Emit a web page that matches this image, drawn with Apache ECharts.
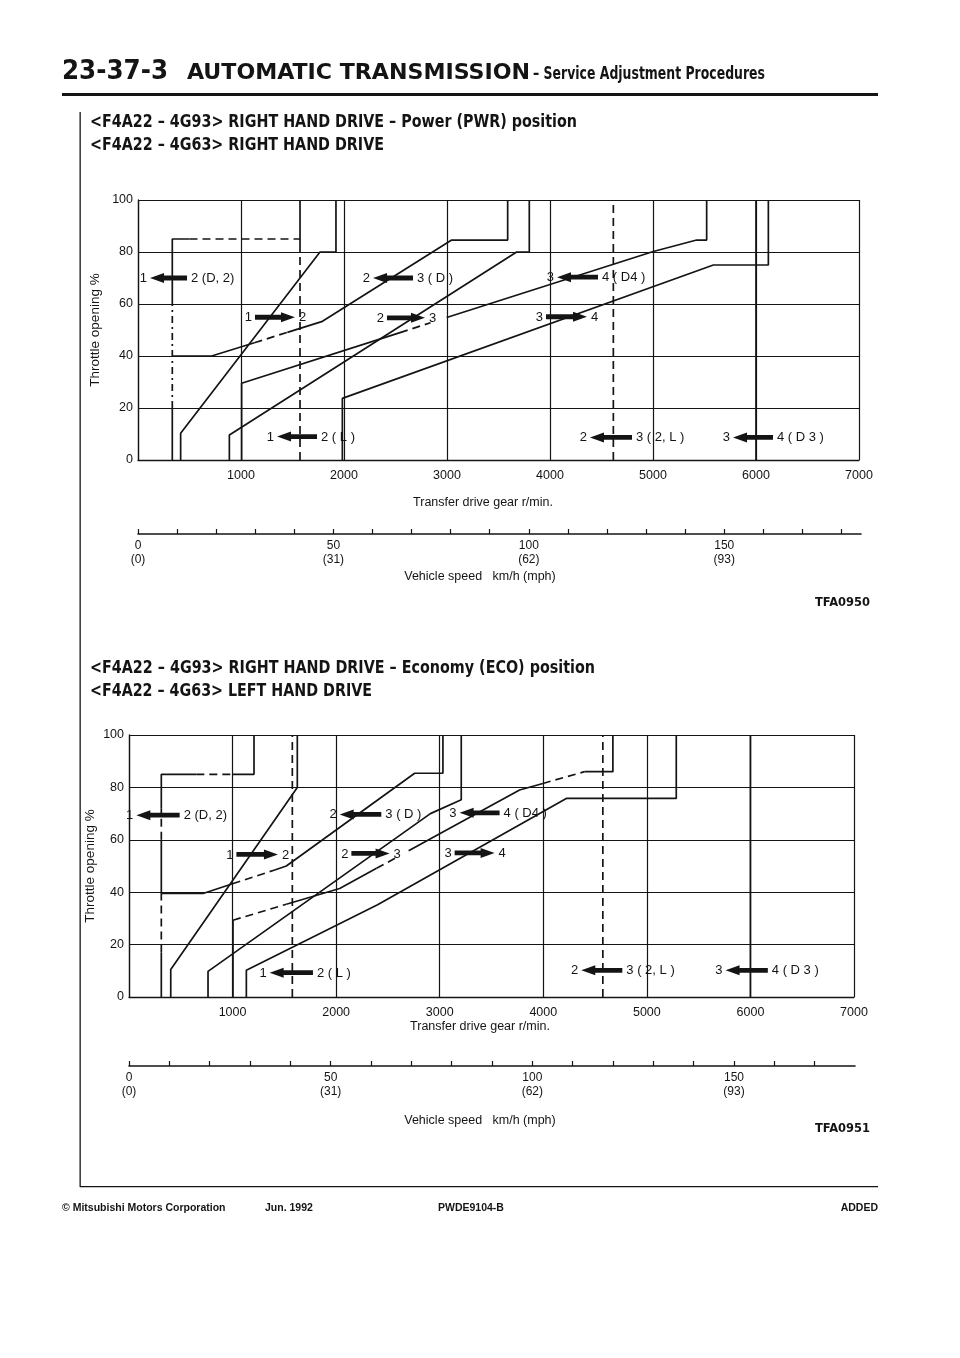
<!DOCTYPE html>
<html><head><meta charset="utf-8">
<script src="https://cdn.jsdelivr.net/npm/echarts@6/dist/echarts.min.js"></script>
<style>html,body{margin:0;padding:0;background:#fff}#c{width:960px;height:1358px}</style>
</head><body><div id="c"></div>
<script>
// ---------- axis ticks ----------
const rpmTicks = [0,1000,2000,3000,4000,5000,6000,7000];
const throttleTicks = [0,20,40,60,80,100];
const speedTicks = [0,50,100,150];
const mphLabels = ['(0)','(31)','(62)','(93)'];

// ---------- Power (PWR) position: shift lines [rpm, throttle %] ----------
const pwr12D2_s1 = [[333,0],[333,20]];
const pwr12D2_d1 = [[333,20],[333,60]];
const pwr12D2_s2 = [[333,60],[333,85],[500,85]];
const pwr12D2_d2 = [[500,85],[1573,85]];
const pwr12L_d   = [[1573,0],[1573,80]];
const pwr12L_s   = [[1573,80],[1573,100]];
const pwr12Up    = [[414,0],[414,10.3],[1767,80],[1922,80],[1922,100]];
const pwr23D_s1  = [[333,40],[715,40],[1130,45.1]];
const pwr23D_d   = [[1130,45.1],[1450,49.1]];
const pwr23D_s2  = [[1450,49.1],[1783,53.2],[3045,84.6],[3589,84.6],[3589,100]];
const pwr23Up    = [[887,0],[887,9.6],[3676,80],[3799,80],[3799,100]];
const pwr34D4_s1 = [[1006,0],[1006,29.5],[2544,49.0]];
const pwr34D4_d  = [[2544,49.0],[2840,52.8]];
const pwr34D4_s2 = [[2997,54.8],[5003,80.2],[5424,84.6],[5521,84.6],[5521,100]];
const pwr34Up    = [[1984,0],[1984,23.7],[5586,75],[6120,75],[6120,100]];
const pwr23L     = [[4615,0],[4615,100]];
const pwr34D3    = [[6000,0],[6000,100]];

// ---------- Economy (ECO) position ----------
const eco12D2_s1 = [[312,0],[312,17]];
const eco12D2_d1 = [[312,17],[312,40]];
const eco12D2_s2 = [[312,40],[312,60]];
const eco12D2_d2 = [[312,60],[312,72]];
const eco12D2_s3 = [[312,72],[312,85],[650,85]];
const eco12D2_d3 = [[650,85],[1000,85]];
const eco12D2_s4 = [[1000,85],[1207,85],[1207,100]];
const eco12L     = [[1577,0],[1577,100]];
const eco12Up    = [[403,0],[403,10.5],[1625,80],[1625,100]];
const eco23D_s1  = [[312,39.5],[715,39.5],[1000,43.2]];
const eco23D_d   = [[1000,43.2],[1400,48.4]];
const eco23D_s2  = [[1400,48.4],[1519,50],[2758,85.4],[3031,85.4],[3031,100]];
const eco23Up    = [[763,0],[763,9.8],[2910,70],[3208,75.3],[3208,100]];
const eco34D4_v  = [[1004,0],[1004,29.3]];
const eco34D4_d1 = [[1004,29.3],[1519,35.4]];
const eco34D4_s1 = [[1519,35.4],[2034,41.4],[2390,49.1]];
const eco34D4_d2 = [[2390,49.1],[2600,53.6]];
const eco34D4_s2 = [[2700,55.8],[3771,79],[3996,81.5]];
const eco34D4_d3 = [[3996,81.5],[4399,86]];
const eco34D4_s3 = [[4399,86],[4672,86],[4672,100]];
const eco34Up    = [[1133,0],[1133,10.2],[2400,35.2],[4222,75.8],[5284,75.8],[5284,100]];
const eco23L     = [[4575,0],[4575,100]];
const eco34D3    = [[6000,0],[6000,100]];

// ---------- shift annotations (arrow ends in rpm, height in %) ----------
const pwrNotes = [
  {xa:117, xb:476, y:70, head:'L', l:'1', r:'2 (D, 2)'},
  {xa:1136,xb:1524,y:54.9,head:'R', l:'1', r:'2'},
  {xa:2282,xb:2670,y:70, head:'L', l:'2', r:'3 ( D )'},
  {xa:2417,xb:2786,y:54.7,head:'R', l:'2', r:'3'},
  {xa:1350,xb:1738,y:9, head:'L', l:'1', r:'2 ( L )'},
  {xa:4068,xb:4466,y:70.3,head:'L', l:'3', r:'4 ( D4 )'},
  {xa:3961,xb:4359,y:55.1,head:'R', l:'3', r:'4'},
  {xa:4388,xb:4796,y:8.7, head:'L', l:'2', r:'3 ( 2, L )'},
  {xa:5777,xb:6165,y:8.7, head:'L', l:'3', r:'4 ( D 3 )'}
];
const ecoNotes = [
  {xa:71,  xb:489, y:69.4,head:'L', l:'1', r:'2 (D, 2)'},
  {xa:1037,xb:1438,y:54.4,head:'R', l:'1', r:'2'},
  {xa:2034,xb:2436,y:69.7,head:'L', l:'2', r:'3 ( D )'},
  {xa:2147,xb:2516,y:54.8,head:'R', l:'2', r:'3'},
  {xa:1358,xb:1776,y:9.3, head:'L', l:'1', r:'2 ( L )'},
  {xa:3192,xb:3578,y:70.3,head:'L', l:'3', r:'4 ( D4 )'},
  {xa:3144,xb:3530,y:55,  head:'R', l:'3', r:'4'},
  {xa:4367,xb:4763,y:10.2,head:'L', l:'2', r:'3 ( 2, L )'},
  {xa:5760,xb:6168,y:10.2,head:'L', l:'3', r:'4 ( D 3 )'}
];

const INK = '#141414';
const FONT = '"Liberation Sans", Arial, sans-serif';
const NARROW = '"Liberation Sans Narrow", "DejaVu Sans Condensed", "Liberation Sans", sans-serif';

function line(gi, data, style){
  const ls = {color: INK, width: 1.7};
  if (style === 'd') ls.type = [8,5];
  if (style === 'dd') ls.type = [7,4,2,4];
  return {type:'line', xAxisIndex:gi, yAxisIndex:gi, data:data, showSymbol:false,
    symbol:'none', lineStyle:ls, silent:true, animation:false, z:3};
}
function notes(gi, arr){
  return {type:'custom', xAxisIndex:gi, yAxisIndex:gi, silent:true, animation:false, z:5,
    clip:false,
    data: arr.map(a => [a.xa, a.xb, a.y]),
    encode:{x:[0,1], y:2},
    renderItem: function(params, api){
      const a = arr[params.dataIndex];
      const p1 = api.coord([a.xa, a.y]);
      const p2 = api.coord([a.xb, a.y]);
      const y = p1[1], hl = 14, hh = 5, sh = 2.4;
      const x0 = p1[0], x1 = p2[0];
      let pts;
      if (a.head === 'L'){
        pts = [[x0,y],[x0+hl,y-hh],[x0+hl,y-sh],[x1,y-sh],[x1,y+sh],[x0+hl,y+sh],[x0+hl,y+hh]];
      } else {
        pts = [[x1,y],[x1-hl,y-hh],[x1-hl,y-sh],[x0,y-sh],[x0,y+sh],[x1-hl,y+sh],[x1-hl,y+hh]];
      }
      return {type:'group', children:[
        {type:'polygon', shape:{points:pts}, style:{fill:INK}},
        {type:'text', style:{text:a.l, x:x0-3, y:y+0.5, align:'right', verticalAlign:'middle',
          fontSize:13, fontFamily:FONT, fill:INK}},
        {type:'text', style:{text:a.r, x:x1+4, y:y+0.5, align:'left', verticalAlign:'middle',
          fontSize:13, fontFamily:FONT, fill:INK}}
      ]};
    }
  };
}

// measure text to fit a target width (horizontal scale only)
const mctx = document.createElement('canvas').getContext('2d');
function fitText(x, y, text, size, family, targetW, align){
  mctx.font = 'bold ' + size + 'px ' + family;
  const w = mctx.measureText(text).width || targetW;
  return {type:'text', x:x, y:y, silent:true, scaleX: targetW / w, scaleY: 1,
    style:{text:text, fontSize:size, fontWeight:'bold', fontFamily:family, fill:INK,
      align:align||'left', verticalAlign:'middle'}};
}
function txt(x, y, text, size, weight, family, align, extra){
  return Object.assign({type:'text', x:x, y:y, silent:true,
    style:{text:text, fontSize:size, fontWeight:weight||'normal', fontFamily:family||FONT,
      fill:INK, align:align||'left', verticalAlign:'middle'}}, extra||{});
}

const chart = echarts.init(document.getElementById('c'), null, {renderer:'canvas'});

const grids = [
  {left:138, top:200, width:721, height:260},
  {left:129, top:735, width:725, height:262},
  {left:138, top:500, width:723, height:34},
  {left:129, top:1032, width:726, height:34}
];
grids.forEach(g => { g.show = false; g.containLabel = false; });

function rpmAxis(gi){
  return {type:'value', gridIndex:gi, min:rpmTicks[0], max:rpmTicks[rpmTicks.length-1], interval:1000,
    axisLine:{show:true, lineStyle:{color:INK, width:1.3}},
    axisTick:{show:false},
    splitLine:{show:true, lineStyle:{color:INK, width:1.2}},
    axisLabel:{fontSize:12.5, fontFamily:FONT, color:INK, margin:9,
      formatter: v => (v === 0 ? '' : String(v)), showMaxLabel:true}
  };
}
function thrAxis(gi){
  return {type:'value', gridIndex:gi, min:throttleTicks[0], max:throttleTicks[throttleTicks.length-1], interval:20,
    axisLine:{show:true, lineStyle:{color:INK, width:1.3}},
    axisTick:{show:false},
    splitLine:{show:true, lineStyle:{color:INK, width:1.2}},
    axisLabel:{fontSize:12.5, fontFamily:FONT, color:INK, margin:5}
  };
}
function speedAxis(gi, max){
  return {type:'value', gridIndex:gi, min:0, max:max, interval:10, position:'bottom',
    axisLine:{show:true, onZero:false, lineStyle:{color:INK, width:1.6}},
    axisTick:{show:true, inside:true, length:5, lineStyle:{color:INK, width:1.2}},
    splitLine:{show:false},
    axisLabel:{fontSize:12, fontFamily:FONT, color:INK, margin:5, lineHeight:14, showMaxLabel:false,
      formatter: v => { const i = speedTicks.indexOf(v); return i < 0 ? '' : speedTicks[i] + '\n' + mphLabels[i]; }}
  };
}

const series = [
  line(0,pwr12D2_s1), line(0,pwr12D2_d1,'dd'), line(0,pwr12D2_s2), line(0,pwr12D2_d2,'d'),
  line(0,pwr12L_d,'d'), line(0,pwr12L_s), line(0,pwr12Up),
  line(0,pwr23D_s1), line(0,pwr23D_d,'d'), line(0,pwr23D_s2), line(0,pwr23Up),
  line(0,pwr34D4_s1), line(0,pwr34D4_d,'d'), line(0,pwr34D4_s2), line(0,pwr34Up),
  line(0,pwr23L,'d'), line(0,pwr34D3),
  line(1,eco12D2_s1), line(1,eco12D2_d1,'d'), line(1,eco12D2_s2), line(1,eco12D2_d2,'d'),
  line(1,eco12D2_s3), line(1,eco12D2_d3,'d'), line(1,eco12D2_s4),
  line(1,eco12L,'d'), line(1,eco12Up),
  line(1,eco23D_s1), line(1,eco23D_d,'d'), line(1,eco23D_s2), line(1,eco23Up),
  line(1,eco34D4_v), line(1,eco34D4_d1,'d'), line(1,eco34D4_s1), line(1,eco34D4_d2,'d'),
  line(1,eco34D4_s2), line(1,eco34D4_d3,'d'), line(1,eco34D4_s3), line(1,eco34Up),
  line(1,eco23L,'d'), line(1,eco34D3),
  notes(0,pwrNotes), notes(1,ecoNotes)
];

const graphic = [
  fitText(62, 72, '23-37-3', 26, NARROW, 106),
  fitText(187, 73, 'AUTOMATIC TRANSMISSION', 22, NARROW, 343),
  fitText(533, 74, '– Service Adjustment Procedures', 18, NARROW, 232),
  {type:'rect', shape:{x:62, y:93, width:816, height:3}, style:{fill:INK}, silent:true},
  {type:'rect', shape:{x:79.5, y:112, width:1.3, height:1075}, style:{fill:INK}, silent:true},
  {type:'rect', shape:{x:80, y:1186, width:798, height:1.3}, style:{fill:INK}, silent:true},
  fitText(90, 123, '<F4A22 – 4G93> RIGHT HAND DRIVE – Power (PWR) position', 17, NARROW, 487),
  fitText(90, 146, '<F4A22 – 4G63> RIGHT HAND DRIVE', 17, NARROW, 294),
  txt(95, 330, 'Throttle opening %', 13.5, 'normal', FONT, 'center', {rotation:Math.PI/2}),
  txt(483, 503, 'Transfer drive gear r/min.', 12.5, 'normal', FONT, 'center'),
  txt(480, 577, 'Vehicle speed   km/h (mph)', 12.5, 'normal', FONT, 'center'),
  fitText(870, 603, 'TFA0950', 13, NARROW, 55, 'right'),
  fitText(90, 669, '<F4A22 – 4G93> RIGHT HAND DRIVE – Economy (ECO) position', 17, NARROW, 505),
  fitText(90, 692, '<F4A22 – 4G63> LEFT HAND DRIVE', 17, NARROW, 282),
  txt(90, 866, 'Throttle opening %', 13.5, 'normal', FONT, 'center', {rotation:Math.PI/2}),
  txt(480, 1027, 'Transfer drive gear r/min.', 12.5, 'normal', FONT, 'center'),
  txt(480, 1121, 'Vehicle speed   km/h (mph)', 12.5, 'normal', FONT, 'center'),
  fitText(870, 1129, 'TFA0951', 13, NARROW, 55, 'right'),
  txt(62, 1208, '© Mitsubishi Motors Corporation', 10.5, 'bold', FONT),
  txt(265, 1208, 'Jun. 1992', 10.5, 'bold', FONT),
  txt(438, 1208, 'PWDE9104-B', 10.5, 'bold', FONT),
  txt(878, 1208, 'ADDED', 10.5, 'bold', FONT, 'right')
];

chart.setOption({
  animation:false,
  backgroundColor:'#ffffff',
  grid: grids,
  xAxis: [rpmAxis(0), rpmAxis(1), speedAxis(2, 185), speedAxis(3, 180)],
  yAxis: [thrAxis(0), thrAxis(1),
    {type:'value', gridIndex:2, show:false, min:0, max:1},
    {type:'value', gridIndex:3, show:false, min:0, max:1}],
  series: series,
  graphic: graphic
});
</script>
</body></html>
